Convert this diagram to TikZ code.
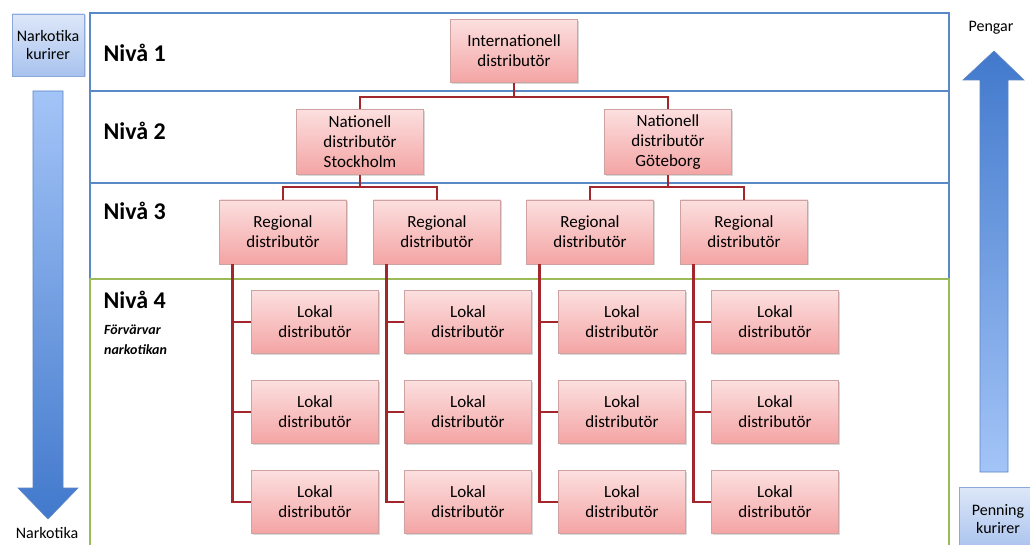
\documentclass[tikz,border=0pt]{standalone}
\usepackage{fontspec}
\setmainfont{Carlito}
\usetikzlibrary{shadows}
\definecolor{conn}{HTML}{A3262C}
\definecolor{pinktop}{HTML}{FCDFDF}
\definecolor{pinkbot}{HTML}{F4A4A4}
\definecolor{pinkborder}{HTML}{CFA2A2}
\definecolor{bluetop}{HTML}{DDE7F8}
\definecolor{bluebot}{HTML}{A8C2EE}
\definecolor{blueborder}{HTML}{8AA8DA}
\definecolor{bandblue}{HTML}{5A8AC6}
\definecolor{bandgreen}{HTML}{9BBB59}
\definecolor{arrowdark}{HTML}{4279CC}
\definecolor{arrowlight}{HTML}{A3C4F7}
\definecolor{arrowedge}{HTML}{5B84C4}
\begin{document}
\begin{tikzpicture}[x=1pt,y=-1pt,
  dist/.style={draw=pinkborder, line width=0.6pt, top color=pinktop, bottom color=pinkbot,
    minimum width=127pt, minimum height=63pt, align=center, inner sep=0pt,
    font=\fontsize{17}{20}\selectfont,
    drop shadow={shadow xshift=1.5pt, shadow yshift=-1.5pt, opacity=0.3}},
  bluebox/.style={draw=blueborder, line width=0.6pt, top color=bluetop, bottom color=bluebot,
    minimum width=72pt, minimum height=62pt, align=center, inner sep=0pt,
    font=\fontsize{16}{18}\selectfont,
    drop shadow={shadow xshift=1.5pt, shadow yshift=-1.5pt, opacity=0.3}},
  band/.style={draw=bandblue, line width=1.4pt},
  gband/.style={draw=bandgreen, line width=1.4pt},
  connector/.style={draw=conn, line width=2.6pt},
  level/.style={anchor=west, font=\fontsize{24}{28}\selectfont\bfseries},
  plain/.style={font=\fontsize{16}{18}\selectfont, inner sep=0pt},
  bigarrow/.style={draw=arrowedge, line width=0.6pt}
]
\useasboundingbox (0,0) rectangle (1030,545);
\fill[white] (0,0) rectangle (1030,545);

% bands
\draw[band] (90,13) rectangle (949,91);
\draw[band] (90,91) rectangle (949,183);
\draw[band] (90,183) rectangle (949,279);
\draw[gband] (90,279) rectangle (949,560);

% level labels
\node[level] (n1) at (100,53) {Nivå 1};
\node[level] (n2) at (100,131) {Nivå 2};
\node[level] (n3) at (100,211) {Nivå 3};
\node[level] (n4) at (100,300) {Nivå 4};
\node[anchor=west, align=left, inner sep=0pt, font=\fontsize{14}{20}\selectfont\bfseries\itshape] (acq) at (104,340) {Förvärvar\\narkotikan};

% arrows
\shade[bigarrow, top color=arrowlight, bottom color=arrowdark]
  (33,91) -- (63,91) -- (63,488) -- (78,488) -- (48,519) -- (18,488) -- (33,488) -- cycle;
\shade[bigarrow, top color=arrowdark, bottom color=arrowlight]
  (980,472) -- (1008,472) -- (1008,80) -- (1024,80) -- (994,51) -- (963,80) -- (980,80) -- cycle;

% side boxes and labels
\node[bluebox] (nk) at (48,45) {Narkotika\\kurirer};
\node[bluebox, minimum width=78pt, minimum height=64pt] (pk) at (998,519) {Penning\\kurirer};
\node[plain] (pengar) at (991,28) {Pengar};
\node[plain] (nark) at (47,533) {Narkotika};

% nodes
\node[dist] (intl) at (514,51) {Internationell\\distributör};
\node[dist, minimum height=65pt] (sto) at (360,142) {Nationell\\distributör\\Stockholm};
\node[dist, minimum height=65pt] (gbg) at (668,142) {Nationell\\distributör\\Göteborg};

\node[dist, minimum height=64pt] (r1) at (283,232) {Regional\\distributör};
\node[dist, minimum height=64pt] (r2) at (437,232) {Regional\\distributör};
\node[dist, minimum height=64pt] (r3) at (590,232) {Regional\\distributör};
\node[dist, minimum height=64pt] (r4) at (744,232) {Regional\\distributör};

\foreach \c/\x in {1/315,2/468,3/622,4/775}{
  \node[dist] (l\c1) at (\x,322) {Lokal\\distributör};
  \node[dist] (l\c2) at (\x,412) {Lokal\\distributör};
  \node[dist] (l\c3) at (\x,502) {Lokal\\distributör};
}

% connectors
\coordinate (j1) at (514,97);
\coordinate (j2) at (360,187);
\coordinate (j3) at (668,187);
\draw[connector] (intl.south) -- (j1);
\draw[connector] (j1) -| (sto.north);
\draw[connector] (j1) -| (gbg.north);
\draw[connector] (sto.south) -- (j2);
\draw[connector] (j2) -| (r1.north);
\draw[connector] (j2) -| (r2.north);
\draw[connector] (gbg.south) -- (j3);
\draw[connector] (j3) -| (r3.north);
\draw[connector] (j3) -| (r4.north);

\foreach \c in {1,2,3,4}{
  \coordinate (t\c) at ([xshift=13pt]r\c.south west);
  \draw[connector] (t\c) |- (l\c3.west);
  \draw[connector] (t\c |- l\c1.west) -- (l\c1.west);
  \draw[connector] (t\c |- l\c2.west) -- (l\c2.west);
}
\end{tikzpicture}
\end{document}
